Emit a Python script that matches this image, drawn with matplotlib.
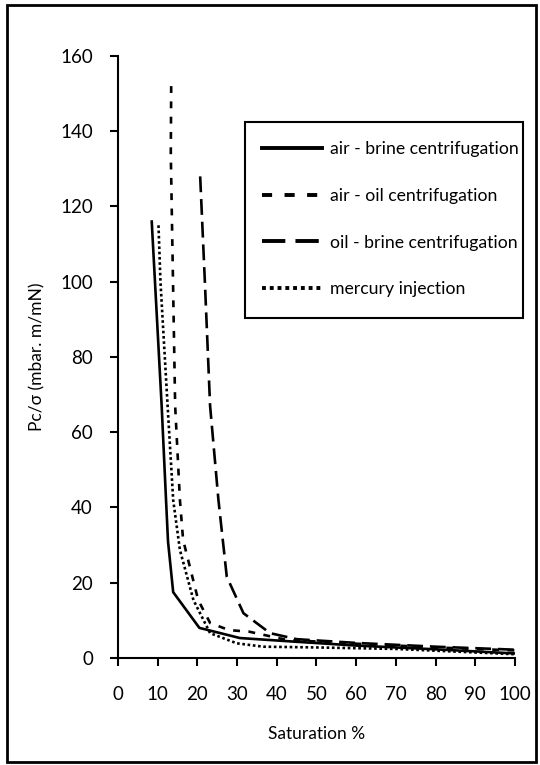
import matplotlib
matplotlib.use('Agg')
import matplotlib.pyplot as plt
from matplotlib.patches import Rectangle

plt.rcParams['font.family'] = ['Lato', 'DejaVu Sans']

# Data
air_brine_x = [8.5, 11, 12.1, 12.6, 13.9, 20.5, 30.7, 45, 60, 80, 100]
air_brine_y = [116, 67, 42, 31, 17.5, 8, 5.3, 4.3, 3.3, 2.3, 1.2]

air_oil_x = [13.4, 13.3, 14.4, 15.6, 16.4, 20.2, 23.2, 28, 33, 42.5, 60, 80, 100]
air_oil_y = [152, 134, 67, 42, 31.4, 15.4, 9.3, 7.4, 7.0, 4.8, 3.8, 2.8, 2.0]

oil_brine_x = [20.7, 21.9, 23.2, 25.3, 27.4, 31.6, 38.3, 45, 60, 80, 100]
oil_brine_y = [128, 99.6, 67, 42, 21.6, 11.9, 6.6, 5.0, 4.0, 3.0, 2.2]

mercury_x = [10.2, 10.7, 12.5, 13.9, 15.6, 19, 23.2, 29.9, 36.6, 50, 70, 100]
mercury_y = [115, 100, 67, 42, 28.7, 15.4, 6.6, 3.9, 3.0, 2.8, 2.4, 1.0]

labels = ['air - brine centrifugation', 'air - oil centrifugation',
          'oil - brine centrifugation', 'mercury injection']

fig = plt.figure(figsize=(5.4, 7.65), dpi=100)
ax = fig.add_axes([0.2185, 0.1399, 0.7352, 0.7869])

lw = 1.9
ax.plot(air_brine_x, air_brine_y, color='black', lw=lw, label=labels[0])
ax.plot(air_oil_x, air_oil_y, color='black', lw=lw, linestyle=(0, (2.6, 3.2)), label=labels[1])
ax.plot(oil_brine_x, oil_brine_y, color='black', lw=lw, linestyle=(0, (6, 2.6)), label=labels[2])
ax.plot(mercury_x, mercury_y, color='black', lw=lw, linestyle=(0, (1, 1)), label=labels[3])

ax.set_xlim(0, 100)
ax.set_ylim(0, 160)
ax.set_xticks(range(0, 101, 10))
ax.set_yticks(range(0, 161, 20))
ax.spines['top'].set_visible(False)
ax.spines['right'].set_visible(False)
ax.spines['left'].set_linewidth(1.5)
ax.spines['bottom'].set_linewidth(1.5)
ax.tick_params(direction='out', length=6, width=1.5, labelsize=13.5)
ax.tick_params(axis='y', pad=12)
ax.tick_params(axis='x', pad=14)
ax.margins(0)

ax.set_xlabel('Saturation %', fontsize=12.5, labelpad=17)
ax.set_ylabel('Pc/σ (mbar. m/mN)', fontsize=12.5, labelpad=11)

leg = ax.legend(loc='upper left', bbox_to_anchor=(0.363, 0.859), fontsize=12.7,
                frameon=False, handlelength=3.4, handletextpad=0.45,
                labelspacing=1.75, borderpad=0, borderaxespad=0)
for line in leg.get_lines():
    line.set_linewidth(2.8)

# legend box, drawn separately so its padding matches the original
ax.add_patch(Rectangle((0.32, 0.565), 0.70, 0.325, transform=ax.transAxes,
                       fill=False, edgecolor='black', linewidth=1.5, clip_on=False))

# outer frame around the figure
fig.patches.append(Rectangle((0.013, 0.004), 0.98, 0.99, transform=fig.transFigure,
                             fill=False, edgecolor='black', linewidth=2))

plt.savefig('out.png', dpi=100)
